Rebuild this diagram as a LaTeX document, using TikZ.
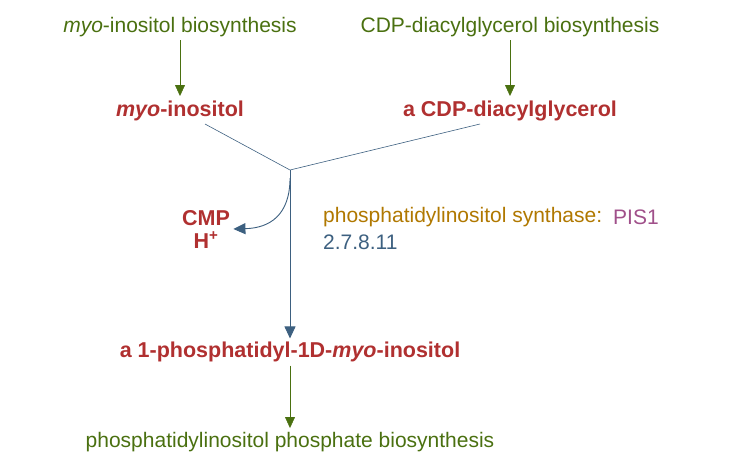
\documentclass[tikz,border=0pt]{standalone}
\usepackage{fontspec}
\setmainfont{Liberation Sans}
\usetikzlibrary{arrows.meta}
\definecolor{gr}{HTML}{4A7010}
\definecolor{rd}{HTML}{B03030}
\definecolor{bl}{HTML}{3D6080}
\definecolor{og}{HTML}{B07800}
\definecolor{pu}{HTML}{A0508A}
\begin{document}
\begin{tikzpicture}[x=1pt,y=-1pt,
  txt/.style={font=\fontsize{21}{23}\selectfont},
  path/.style={txt,text=gr},
  cmp/.style={font=\fontsize{21.5}{23}\selectfont\bfseries,text=rd},
  garr/.style={draw=gr,-{Triangle[length=11pt,width=10pt]}},
  barr/.style={draw=bl,line width=0.9pt,-{Triangle[length=12pt,width=11pt]}}]
\useasboundingbox (0,0) rectangle (750,464);
\node[path] (p1) at (180,27) {\textit{myo}-inositol biosynthesis};
\node[path] (p2) at (510,27) {CDP-diacylglycerol biosynthesis};
\node[cmp] (m1) at (180,111) {\textit{myo}-inositol};
\node[cmp] (m2) at (510,111) {a CDP-diacylglycerol};
\node[cmp] (pr) at (290,352) {a 1-phosphatidyl-1D-\textit{myo}-inositol};
\node[path] (p3) at (290,442) {phosphatidylinositol phosphate biosynthesis};
\node[cmp,align=center] (cmpn) at (206,229) {CMP\\H\textsuperscript{+}};
\node[txt,text=og,anchor=west,inner sep=0pt] (enz) at (323,217) {phosphatidylinositol synthase:};
\node[txt,text=pu,anchor=west,inner sep=0pt] (gene) at (613,217) {PIS1};
\node[txt,text=bl,anchor=west,inner sep=0pt] (ec) at (323,242) {2.7.8.11};
\coordinate (j) at (290,170);
\draw[garr] (p1.south) -- (180,96);
\draw[garr] (p2.south) -- (510,96);
\draw[garr] (pr.south) -- (290,428);
\draw[bl,line width=0.6pt] (205,124) -- (j) -- (480,124);
\draw[barr] (j) -- (pr.north);
\draw[barr] (290,178) .. controls (290,215) and (270,228) .. (cmpn.east);
\end{tikzpicture}
\end{document}
